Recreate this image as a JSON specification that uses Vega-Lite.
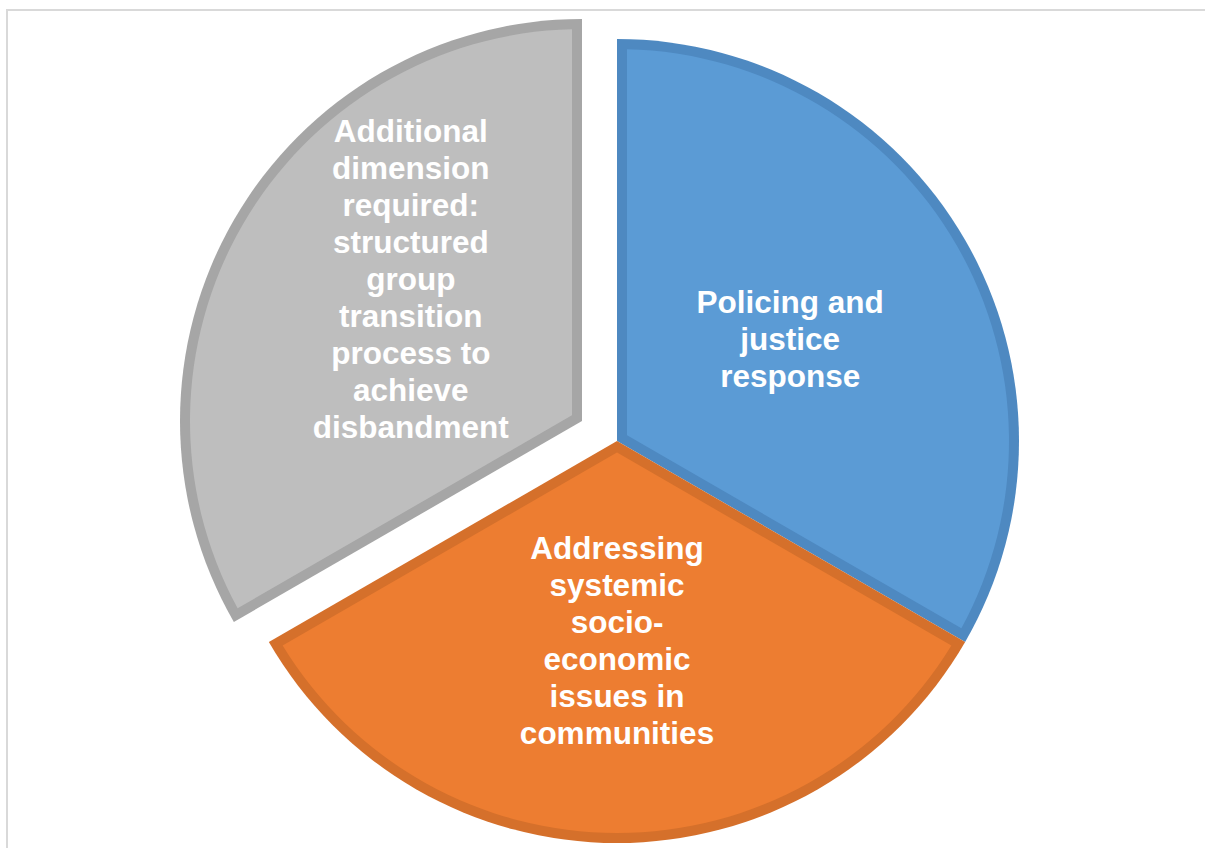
{
  "$schema": "https://vega.github.io/schema/vega-lite/v6.json",
  "autosize": {"type": "none"},
  "width": 1220,
  "height": 862,
  "padding": {"left": 7, "top": 10, "right": -22, "bottom": -24},
  "background": "white",
  "view": {"stroke": "#D9D9D9", "strokeWidth": 2},
  "config": {"view": {"stroke": "#D9D9D9", "strokeWidth": 2}},
  "data": {
    "values": [
      {"order": 1, "value": 1, "label": "Policing and\njustice\nresponse"},
      {"order": 2, "value": 1, "label": "Addressing\nsystemic\nsocio-\neconomic\nissues in\ncommunities"},
      {"order": 3, "value": 1, "label": "Additional\ndimension\nrequired:\nstructured\ngroup\ntransition\nprocess to\nachieve\ndisbandment"}
    ]
  },
  "encoding": {
    "theta": {"field": "value", "type": "quantitative", "stack": true},
    "order": {"field": "order", "type": "quantitative"}
  },
  "layer": [
    {
      "mark": {"type": "arc", "outerRadius": 402},
      "encoding": {
        "fill": {"field": "order", "type": "nominal", "scale": {"domain": [1, 2, 3], "range": ["#4E89C1", "#D5702B", "#A6A6A6"]}, "legend": null},
        "opacity": {"condition": {"test": "datum.order === 3", "value": 0}, "value": 1}
      }
    },
    {
      "mark": {"type": "arc", "outerRadius": 392, "innerRadius": 11.6, "padAngle": 0.051},
      "encoding": {
        "color": {"field": "order", "type": "nominal", "scale": {"domain": [1, 2, 3], "range": ["#5B9BD5", "#ED7D31", "#BEBEBE"]}, "legend": null},
        "opacity": {"condition": {"test": "datum.order === 3", "value": 0}, "value": 1}
      }
    },
    {
      "mark": {"type": "arc", "outerRadius": 402, "xOffset": -35, "yOffset": -20},
      "encoding": {
        "fill": {"field": "order", "type": "nominal", "legend": null},
        "opacity": {"condition": {"test": "datum.order === 3", "value": 1}, "value": 0}
      }
    },
    {
      "mark": {"type": "arc", "outerRadius": 392, "innerRadius": 11.6, "padAngle": 0.051, "xOffset": -35, "yOffset": -20},
      "encoding": {
        "color": {"field": "order", "type": "nominal", "legend": null},
        "opacity": {"condition": {"test": "datum.order === 3", "value": 1}, "value": 0}
      }
    },
    {
      "mark": {"type": "text", "radius": 200, "yOffset": -37, "font": "Liberation Sans", "fontWeight": "bold", "fontSize": 31.5, "lineHeight": 37, "lineBreak": "\n", "fill": "white", "align": "center", "baseline": "middle"},
      "encoding": {
        "text": {"field": "label", "type": "nominal"},
        "detail": {"field": "order", "type": "nominal"},
        "opacity": {"condition": {"test": "datum.order === 1", "value": 1}, "value": 0}
      }
    },
    {
      "mark": {"type": "text", "radius": 200, "yOffset": -91, "font": "Liberation Sans", "fontWeight": "bold", "fontSize": 31.5, "lineHeight": 37, "lineBreak": "\n", "fill": "white", "align": "center", "baseline": "middle"},
      "encoding": {
        "text": {"field": "label", "type": "nominal"},
        "detail": {"field": "order", "type": "nominal"},
        "opacity": {"condition": {"test": "datum.order === 2", "value": 1}, "value": 0}
      }
    },
    {
      "mark": {"type": "text", "radius": 200, "xOffset": -33, "yOffset": -208, "font": "Liberation Sans", "fontWeight": "bold", "fontSize": 31.5, "lineHeight": 37, "lineBreak": "\n", "fill": "white", "align": "center", "baseline": "middle"},
      "encoding": {
        "text": {"field": "label", "type": "nominal"},
        "detail": {"field": "order", "type": "nominal"},
        "opacity": {"condition": {"test": "datum.order === 3", "value": 1}, "value": 0}
      }
    }
  ]
}
